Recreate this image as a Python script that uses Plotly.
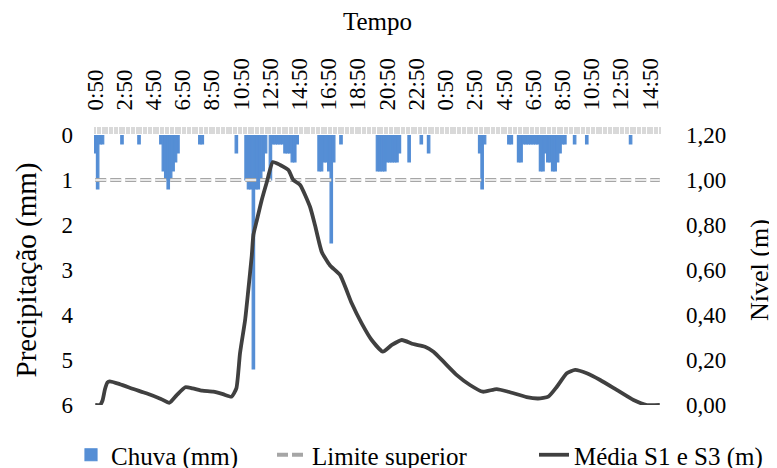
import plotly.graph_objects as go

# ---------------- data ----------------
N_STEPS = 233  # 10-minute steps from 0:50 (day 1) to 15:30 (day 2)
time_labels = ["0:50", "2:50", "4:50", "6:50", "8:50", "10:50", "12:50", "14:50",
               "16:50", "18:50", "20:50", "22:50", "0:50", "2:50", "4:50", "6:50",
               "8:50", "10:50", "12:50", "14:50"]
label_step = 12

rain_idx = [0, 1, 2, 3, 11, 18, 27, 28, 29, 30, 31, 32, 33, 34, 43, 44, 58,
            62, 63, 64, 65, 66, 67, 68, 69, 70, 72, 73, 74, 75, 76, 77, 78, 79, 80, 81, 82, 83,
            92, 93, 94, 95, 96, 97, 98, 101,
            116, 117, 118, 119, 120, 121, 122, 123, 124, 125, 129, 134, 137,
            158, 159, 160, 170, 171,
            174, 175, 176, 177, 178, 179, 180, 181, 182, 183, 184, 185, 186, 187, 188, 189,
            190, 191, 192, 193, 197, 202, 220]
rain_mm = [0.4, 1.2, 0.2, 0.2, 0.2, 0.2, 0.2, 0.8, 1.0, 1.2, 1.0, 0.8, 0.6, 0.4, 0.2, 0.2, 0.4,
           1.0, 1.2, 1.2, 5.2, 1.2, 1.2, 1.0, 0.8, 0.4, 1.0, 0.2, 0.2, 0.2, 0.2, 0.2, 0.4, 0.4, 0.4, 0.6, 0.6, 0.2,
           0.8, 0.8, 0.6, 0.6, 0.8, 2.4, 0.6, 0.2,
           0.8, 0.8, 0.8, 0.8, 0.6, 0.6, 0.6, 0.6, 0.6, 0.4, 0.6, 0.2, 0.4,
           0.4, 1.2, 0.2, 0.2, 0.2,
           0.6, 0.6, 0.2, 0.2, 0.2, 0.2, 0.2, 0.2, 0.2, 0.8, 0.8, 0.4, 0.6, 0.6, 0.8, 0.8,
           0.6, 0.4, 0.2, 0.2, 0.2, 0.2, 0.2]

level_idx = [0, 2, 3, 4, 5, 6, 10, 16, 21, 27, 30.5, 33.5, 37, 40, 44, 48.5, 52.5, 56,
             58, 59.5, 61.6, 62.9, 64.3, 65, 66.4, 68.4, 70.5, 73, 76, 79.4, 81.4, 84.2,
             88.3, 90.3, 93.1, 96.5, 100.6, 105.4, 109.5, 113.6, 118.2, 121.9, 126, 130.7,
             135.5, 139, 143.8, 148.6, 154, 159.3, 165, 169.8, 177.3, 182, 186.2, 189.7,
             193.8, 197.2, 202, 207.5, 214.3, 221.2, 226.7, 232]
level_m = [0.0, 0.0, 0.02, 0.07, 0.10, 0.105, 0.093, 0.07, 0.052, 0.027, 0.01, 0.044, 0.079,
           0.074, 0.064, 0.059, 0.048, 0.037, 0.074, 0.23, 0.378, 0.51, 0.66, 0.756, 0.82,
           0.91, 0.99, 1.08, 1.067, 1.044, 1.0, 0.978, 0.88, 0.80, 0.68, 0.62, 0.578, 0.452,
           0.363, 0.289, 0.237, 0.267, 0.289, 0.271, 0.259, 0.237, 0.185, 0.133, 0.089,
           0.059, 0.071, 0.059, 0.035, 0.029, 0.037, 0.081, 0.141, 0.156, 0.141, 0.111,
           0.067, 0.022, 0.0, 0.0]

limit_m = 1.0

# ---------------- figure ----------------
FONT = "Liberation Serif, Times New Roman, serif"
BLUE = "#558ed5"
W, H = 769, 460  # page body has an 8px margin

fig = go.Figure()
fig.add_bar(x=rain_idx, y=rain_mm, name="Chuva (mm)", width=1, legend="legend",
            marker=dict(color=BLUE, line=dict(color=BLUE, width=1.2)), yaxis="y")
fig.add_scatter(x=[0, N_STEPS - 1], y=[limit_m, limit_m], mode="lines",
                name="Limite superior", yaxis="y2", legend="legend2",
                line=dict(color="#a6a6a6", width=4, dash="11px,4px"))
fig.add_scatter(x=[0, N_STEPS - 1], y=[limit_m, limit_m], mode="lines",
                showlegend=False, hoverinfo="skip", yaxis="y2",
                line=dict(color="#ffffff", width=1.6, dash="11px,4px"))
fig.add_scatter(x=level_idx, y=level_m, mode="lines", name="Média S1 e S3 (m)",
                yaxis="y2", legend="legend3",
                line=dict(color="#404040", width=3.8, shape="spline", smoothing=0.5))

tick_vals = [i * label_step for i in range(len(time_labels))]

def leg(x_px):
    return dict(orientation="h", xref="container", yref="container",
                x=x_px / W, xanchor="left", y=1 - 447 / H, yanchor="middle",
                font=dict(family=FONT, size=25), bgcolor="rgba(0,0,0,0)")

fig.update_layout(
    width=W, height=H,
    margin=dict(l=86, r=116, t=127, b=63),
    paper_bgcolor="white", plot_bgcolor="white",
    font=dict(family=FONT, size=23, color="black"),
    separators=",.",
    showlegend=True,
    legend=leg(63), legend2=leg(264), legend3=leg(526),
    xaxis=dict(
        range=[-0.5, N_STEPS - 0.5], side="top", anchor="y",
        tickmode="array", tickvals=tick_vals, ticktext=time_labels,
        tickangle=-90, ticks="outside", ticklen=7, tickcolor="#d9d9d9", tickwidth=1.5,
        ticklabelstandoff=12,
        minor=dict(tickmode="linear", tick0=0, dtick=1, ticks="outside",
                   ticklen=7, tickcolor="#d9d9d9", tickwidth=1.5),
        showgrid=False, zeroline=False, showline=False,
        title=dict(text="Tempo", font=dict(family=FONT, size=25), standoff=22),
        automargin=False,
    ),
    yaxis=dict(
        range=[6, 0], tickmode="array", tickvals=[0, 1, 2, 3, 4, 5, 6],
        showgrid=False, zeroline=False, showline=False, ticks="",
        ticklabelstandoff=20,
        title=dict(text="Precipitação (mm)", font=dict(family=FONT, size=29), standoff=16),
        automargin=False,
    ),
    yaxis2=dict(
        range=[0, 1.2], overlaying="y", side="right", anchor="x",
        tickmode="array", tickvals=[0, 0.2, 0.4, 0.6, 0.8, 1.0, 1.2], tickformat=".2f",
        showgrid=False, zeroline=False, showline=False, ticks="",
        ticklabelstandoff=24,
        title=dict(text="Nível (m)", font=dict(family=FONT, size=26), standoff=24),
        automargin=False,
    ),
)

fig.write_html("out.html")
